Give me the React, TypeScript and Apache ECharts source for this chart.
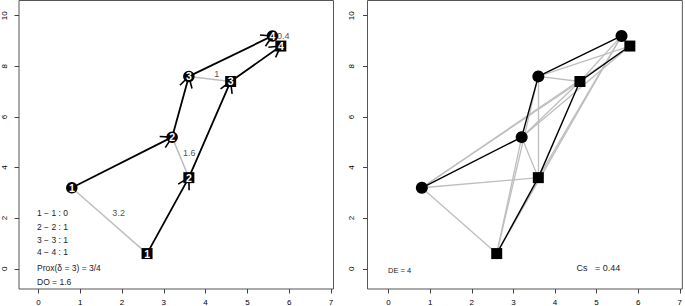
import React, { useEffect, useRef } from "react";
import * as echarts from "echarts";

// Trajectory A (circles) and trajectory B (squares)
const trajAX = [0.8, 3.2, 3.6, 5.6];
const trajAY = [3.2, 5.2, 7.6, 9.2];
const trajBX = [2.6, 3.6, 4.6, 5.8];
const trajBY = [0.6, 3.6, 7.4, 8.8];
const pointLabels = ["1", "2", "3", "4"];

// Pairwise distance labels (left panel)
const pairDistLabels = ["3.2", "1.6", "1", "0.4"];
const pairLabelX = [1.92, 3.61, 4.27, 5.86];
const pairLabelY = [2.19, 4.58, 7.71, 9.19];

// Annotation texts
const matchLines = ["1 \u2212 1 : 0", "2 \u2212 2 : 1", "3 \u2212 3 : 1", "4 \u2212 4 : 1", "Prox(\u03b4 = 3) = 3/4", "DO = 1.6"];
const rightNotes = ["DE = 4", "Cs   = 0.44"];

// Ticks
const xTicks = [0, 1, 2, 3, 4, 5, 6, 7];
const yTicks = [0, 2, 4, 6, 8, 10];

const FONT = "Liberation Sans, Arial, Helvetica, sans-serif";
const GRAY = "#bebebe";

export default function App() {
  const ref = useRef<HTMLDivElement>(null);

  useEffect(() => {
    if (!ref.current) return;
    const chart = echarts.init(ref.current, undefined, { renderer: "svg" });

    const ptsA = trajAX.map((x, i) => [x, trajAY[i], pointLabels[i]]);
    const ptsB = trajBX.map((x, i) => [x, trajBY[i], pointLabels[i]]);
    const pairCoords = trajAX.map((x, i) => ({ coords: [[x, trajAY[i]], [trajBX[i], trajBY[i]]] }));
    const allCross: any[] = [];
    trajAX.forEach((ax, i) => {
      trajBX.forEach((bx, j) => {
        allCross.push({ coords: [[ax, trajAY[i]], [bx, trajBY[j]]] });
      });
    });
    const segs: number[][] = [];
    for (let i = 1; i < trajAX.length; i++) segs.push([trajAX[i - 1], trajAY[i - 1], trajAX[i], trajAY[i]]);
    for (let i = 1; i < trajBX.length; i++) segs.push([trajBX[i - 1], trajBY[i - 1], trajBX[i], trajBY[i]]);
    const distPts = pairLabelX.map((x, i) => [x, pairLabelY[i], pairDistLabels[i]]);

    const mkX = (gi: number, min: number, max: number) => ({
      gridIndex: gi,
      type: "value",
      position: "bottom",
      min,
      max,
      axisLine: { show: false, onZero: false },
      splitLine: { show: false },
      axisTick: { show: true, inside: false, customValues: xTicks, length: 4.5, lineStyle: { color: "#444", width: 1 } },
      axisLabel: { customValues: xTicks, fontSize: 8, margin: 9, color: "#000", fontFamily: FONT },
    });
    const mkY = (gi: number, margin: number) => ({
      gridIndex: gi,
      type: "value",
      position: "left",
      min: -0.8,
      max: 10.6,
      axisLine: { show: false, onZero: false },
      splitLine: { show: false },
      axisTick: { show: true, inside: false, customValues: yTicks, length: 4.5, lineStyle: { color: "#444", width: 1 } },
      axisLabel: { customValues: yTicks, fontSize: 8, margin, rotate: 90, color: "#000", fontFamily: FONT },
    });

    const marker = (gi: number, data: any[], symbol: string, size: number, withLabel: boolean) => ({
      type: "scatter",
      xAxisIndex: gi,
      yAxisIndex: gi,
      data,
      symbol,
      symbolSize: size,
      z: 5,
      itemStyle: { color: "#000", opacity: 1 },
      emphasis: { disabled: true },
      label: withLabel
        ? {
            show: true,
            position: "inside",
            formatter: (p: any) => p.value[2],
            color: "#fff",
            fontSize: 10.5,
            fontWeight: "bold",
            fontFamily: FONT,
          }
        : { show: false },
    });

    const trajLine = (gi: number, xs: number[], ys: number[], w: number) => ({
      type: "line",
      xAxisIndex: gi,
      yAxisIndex: gi,
      data: xs.map((x, i) => [x, ys[i]]),
      symbol: "none",
      z: 3,
      lineStyle: { color: "#000", width: w },
    });

    const option: any = {
      animation: false,
      grid: [
        { left: 16.5, top: 0.5, width: 317, height: 288.5, show: true, borderColor: "#555", borderWidth: 1, containLabel: false },
        { left: 367.5, top: 0.5, width: 317, height: 288.5, show: true, borderColor: "#555", borderWidth: 1, containLabel: false },
      ],
      xAxis: [mkX(0, -0.463, 7.06), mkX(1, -0.506, 7.062)],
      yAxis: [mkY(0, 11), mkY(1, 12)],
      series: [
        // Left panel
        {
          type: "lines",
          coordinateSystem: "cartesian2d",
          xAxisIndex: 0,
          yAxisIndex: 0,
          data: pairCoords,
          z: 1,
          lineStyle: { color: GRAY, width: 1.5, opacity: 1 },
        },
        trajLine(0, trajAX, trajAY, 1.8),
        trajLine(0, trajBX, trajBY, 1.8),
        {
          type: "custom",
          xAxisIndex: 0,
          yAxisIndex: 0,
          data: segs,
          z: 4,
          clip: false,
          renderItem: (params: any, api: any) => {
            const p0 = api.coord([api.value(0), api.value(1)]);
            const p1 = api.coord([api.value(2), api.value(3)]);
            const ang = Math.atan2(p0[1] - p1[1], p0[0] - p1[0]);
            const L = 12.5;
            const a = Math.PI / 6;
            const arm = (s: number) => ({
              type: "line",
              shape: { x1: p1[0], y1: p1[1], x2: p1[0] + L * Math.cos(ang + s * a), y2: p1[1] + L * Math.sin(ang + s * a) },
              style: { stroke: "#000", lineWidth: 1.6 },
            });
            return { type: "group", children: [arm(1), arm(-1)] };
          },
        },
        {
          type: "scatter",
          xAxisIndex: 0,
          yAxisIndex: 0,
          data: distPts,
          symbolSize: 0,
          z: 6,
          label: {
            show: true,
            position: "inside",
            formatter: (p: any) => p.value[2],
            color: "#222",
            fontSize: 9,
            fontFamily: FONT,
          },
        },
        marker(0, ptsA, "circle", 11.5, true),
        marker(0, ptsB, "rect", 11, true),
        // Right panel
        {
          type: "lines",
          coordinateSystem: "cartesian2d",
          xAxisIndex: 1,
          yAxisIndex: 1,
          data: allCross,
          z: 1,
          lineStyle: { color: GRAY, width: 1.3, opacity: 1 },
        },
        trajLine(1, trajAX, trajAY, 1.4),
        trajLine(1, trajBX, trajBY, 1.4),
        marker(1, ptsA.map((p) => [p[0], p[1], ""]), "circle", 12, false),
        marker(1, ptsB.map((p) => [p[0], p[1], ""]), "rect", 11, false),
      ],
      graphic: [
        ...matchLines.map((t, i) => ({
          type: "text",
          x: 37,
          y: [213.3, 226.7, 240, 252, 268, 281.7][i],
          style: { text: t, fontSize: 8.5, fontFamily: FONT, fill: "#222", textVerticalAlign: "middle", textAlign: "left" },
          z: 10,
        })),
        {
          type: "text",
          x: 388,
          y: 270.7,
          style: { text: rightNotes[0], fontSize: 7.5, fontFamily: FONT, fill: "#222", textVerticalAlign: "middle", textAlign: "left" },
          z: 10,
        },
        {
          type: "text",
          x: 576.5,
          y: 268.3,
          style: { text: rightNotes[1], fontSize: 9, fontFamily: FONT, fill: "#222", textVerticalAlign: "middle", textAlign: "left" },
          z: 10,
        },
      ],
    };

    chart.setOption(option);
    return () => chart.dispose();
  }, []);

  return <div ref={ref} style={{ position: "absolute", left: 0, top: 0, width: 685, height: 306 }} />;
}
